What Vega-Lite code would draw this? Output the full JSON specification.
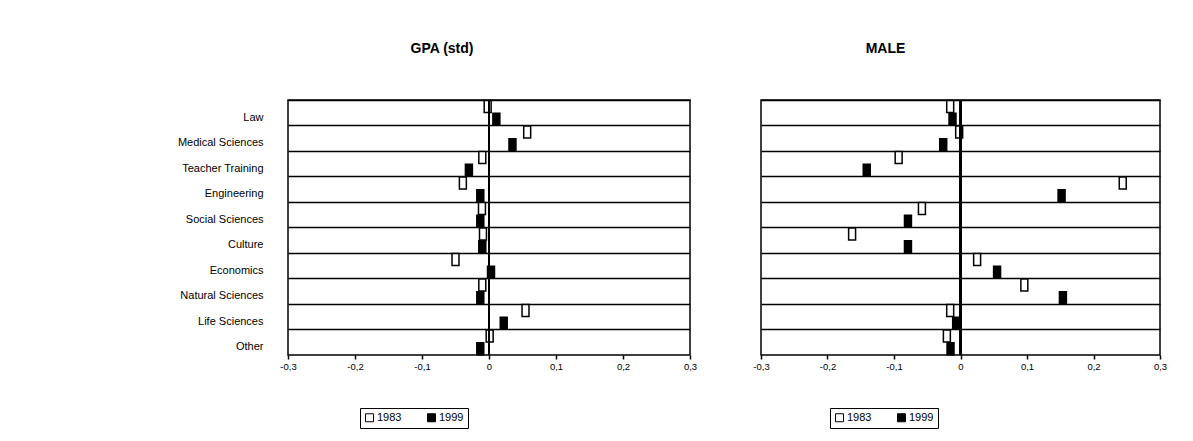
{
  "$schema": "https://vega.github.io/schema/vega-lite/v6.json",
  "background": "white",
  "padding": {"left": 5, "top": 41, "right": 5, "bottom": 5},
  "autosize": {"type": "pad"},
  "config": {
    "font": "Liberation Sans",
    "view": {"stroke": "black", "strokeWidth": 1.5},
    "axis": {"labelFont": "Liberation Sans", "labelColor": "black", "tickColor": "black", "domainColor": "black"}
  },
  "datasets": {
    "gpa": [
      {"field": "Law", "year": "1983", "value": -0.002},
      {"field": "Law", "year": "1999", "value": 0.011},
      {"field": "Medical Sciences", "year": "1983", "value": 0.057},
      {"field": "Medical Sciences", "year": "1999", "value": 0.035},
      {"field": "Teacher Training", "year": "1983", "value": -0.01},
      {"field": "Teacher Training", "year": "1999", "value": -0.03},
      {"field": "Engineering", "year": "1983", "value": -0.039},
      {"field": "Engineering", "year": "1999", "value": -0.013},
      {"field": "Social Sciences", "year": "1983", "value": -0.0105},
      {"field": "Social Sciences", "year": "1999", "value": -0.013},
      {"field": "Culture", "year": "1983", "value": -0.009},
      {"field": "Culture", "year": "1999", "value": -0.01},
      {"field": "Economics", "year": "1983", "value": -0.05},
      {"field": "Economics", "year": "1999", "value": 0.003},
      {"field": "Natural Sciences", "year": "1983", "value": -0.01},
      {"field": "Natural Sciences", "year": "1999", "value": -0.013},
      {"field": "Life Sciences", "year": "1983", "value": 0.0545},
      {"field": "Life Sciences", "year": "1999", "value": 0.022},
      {"field": "Other", "year": "1983", "value": 0.001},
      {"field": "Other", "year": "1999", "value": -0.013}
    ],
    "male": [
      {"field": "Law", "year": "1983", "value": -0.0155},
      {"field": "Law", "year": "1999", "value": -0.012},
      {"field": "Medical Sciences", "year": "1983", "value": -0.002},
      {"field": "Medical Sciences", "year": "1999", "value": -0.026},
      {"field": "Teacher Training", "year": "1983", "value": -0.093},
      {"field": "Teacher Training", "year": "1999", "value": -0.141},
      {"field": "Engineering", "year": "1983", "value": 0.244},
      {"field": "Engineering", "year": "1999", "value": 0.152},
      {"field": "Social Sciences", "year": "1983", "value": -0.058},
      {"field": "Social Sciences", "year": "1999", "value": -0.079},
      {"field": "Culture", "year": "1983", "value": -0.163},
      {"field": "Culture", "year": "1999", "value": -0.079},
      {"field": "Economics", "year": "1983", "value": 0.025},
      {"field": "Economics", "year": "1999", "value": 0.055},
      {"field": "Natural Sciences", "year": "1983", "value": 0.096},
      {"field": "Natural Sciences", "year": "1999", "value": 0.154},
      {"field": "Life Sciences", "year": "1983", "value": -0.0155},
      {"field": "Life Sciences", "year": "1999", "value": -0.0065},
      {"field": "Other", "year": "1983", "value": -0.0205},
      {"field": "Other", "year": "1999", "value": -0.015}
    ]
  },
  "spacing": 54,
  "resolve": {"scale": {"fill": "independent"}, "legend": {"fill": "independent"}},
  "hconcat": [
    {
      "width": 402,
      "height": 255,
      "title": {"text": "GPA (std)", "fontSize": 14, "fontWeight": "bold", "font": "Liberation Sans", "anchor": "middle", "dx": -47, "offset": 41, "color": "black"},
      "data": {"name": "gpa"},
      "layer": [
        {
          "mark": {"type": "point", "shape": "M-0.58,-1H0.58V1H-0.58Z", "size": 144, "filled": true, "stroke": "black", "strokeWidth": 1.5, "opacity": 1},
          "encoding": {
            "y": {"field": "field", "type": "nominal", "sort": ["Law", "Medical Sciences", "Teacher Training", "Engineering", "Social Sciences", "Culture", "Economics", "Natural Sciences", "Life Sciences", "Other"], "scale": {"type": "band", "paddingInner": 0, "paddingOuter": 0},
              "axis": {"title": null, "bandPosition": 0, "grid": true, "gridColor": "black", "gridWidth": 1.5, "gridOpacity": 1, "ticks": false, "domain": false, "labelFontSize": 11, "labelPadding": 25, "labelOffset": 5, "labelBaseline": "middle", "minExtent": 282, "maxExtent": 282}},
            "yOffset": {"field": "year", "type": "nominal", "sort": ["1983", "1999"], "scale": {"type": "band", "paddingInner": 0, "paddingOuter": 0}},
            "x": {"field": "value", "type": "quantitative", "scale": {"domain": [-0.3, 0.3], "nice": false, "zero": false},
              "axis": {"title": null, "values": [-0.3, -0.25, -0.2, -0.15, -0.1, -0.05, 0, 0.05, 0.1, 0.15, 0.2, 0.25, 0.3], "labelExpr": "replace(replace(format(datum.value, '.2~f'), '.', ','), '\u2212', '-')", "labelFontSize": 9.5, "tickSize": 4, "tickWidth": 1.5, "domain": false, "grid": false, "labelPadding": 2, "labelFlush": false, "labelOverlap": false}},
            "fill": {"field": "year", "type": "nominal", "scale": {"domain": ["1983", "1999"], "range": ["white", "black"]},
              "legend": {"title": null, "orient": "none", "legendX": 72, "legendY": 308, "direction": "horizontal", "strokeColor": "black", "padding": 4, "symbolType": "square", "symbolSize": 64, "symbolStrokeColor": "black", "symbolStrokeWidth": 1, "labelFontSize": 11, "labelFont": "Liberation Sans", "labelColor": "black", "columnPadding": 23, "labelOffset": 2}}
          }
        },
        {"mark": {"type": "rule", "color": "black", "strokeWidth": 1.5}, "encoding": {"x": {"datum": 0}}}
      ]
    },
    {
      "width": 399,
      "height": 255,
      "title": {"text": "MALE", "fontSize": 14, "fontWeight": "bold", "font": "Liberation Sans", "anchor": "middle", "dx": -75, "offset": 41, "color": "black"},
      "data": {"name": "male"},
      "layer": [
        {
          "mark": {"type": "point", "shape": "M-0.58,-1H0.58V1H-0.58Z", "size": 144, "filled": true, "stroke": "black", "strokeWidth": 1.5, "opacity": 1},
          "encoding": {
            "y": {"field": "field", "type": "nominal", "sort": ["Law", "Medical Sciences", "Teacher Training", "Engineering", "Social Sciences", "Culture", "Economics", "Natural Sciences", "Life Sciences", "Other"], "scale": {"type": "band", "paddingInner": 0, "paddingOuter": 0},
              "axis": {"title": null, "bandPosition": 0, "grid": true, "gridColor": "black", "gridWidth": 1.5, "gridOpacity": 1, "ticks": false, "domain": false, "labels": false, "minExtent": 0, "maxExtent": 0}},
            "yOffset": {"field": "year", "type": "nominal", "sort": ["1983", "1999"], "scale": {"type": "band", "paddingInner": 0, "paddingOuter": 0}},
            "x": {"field": "value", "type": "quantitative", "scale": {"domain": [-0.3, 0.3], "nice": false, "zero": false},
              "axis": {"title": null, "values": [-0.3, -0.25, -0.2, -0.15, -0.1, -0.05, 0, 0.05, 0.1, 0.15, 0.2, 0.25, 0.3], "labelExpr": "replace(replace(format(datum.value, '.2~f'), '.', ','), '\u2212', '-')", "labelFontSize": 9.5, "tickSize": 4, "tickWidth": 1.5, "domain": false, "grid": false, "labelPadding": 2, "labelFlush": false, "labelOverlap": false}},
            "fill": {"field": "year", "type": "nominal", "scale": {"domain": ["1983", "1999"], "range": ["white", "black"]},
              "legend": {"title": null, "orient": "none", "legendX": 69, "legendY": 308, "direction": "horizontal", "strokeColor": "black", "padding": 4, "symbolType": "square", "symbolSize": 64, "symbolStrokeColor": "black", "symbolStrokeWidth": 1, "labelFontSize": 11, "labelFont": "Liberation Sans", "labelColor": "black", "columnPadding": 23, "labelOffset": 2}}
          }
        },
        {"mark": {"type": "rule", "color": "black", "strokeWidth": 1.5}, "encoding": {"x": {"datum": 0}}}
      ]
    }
  ]
}
